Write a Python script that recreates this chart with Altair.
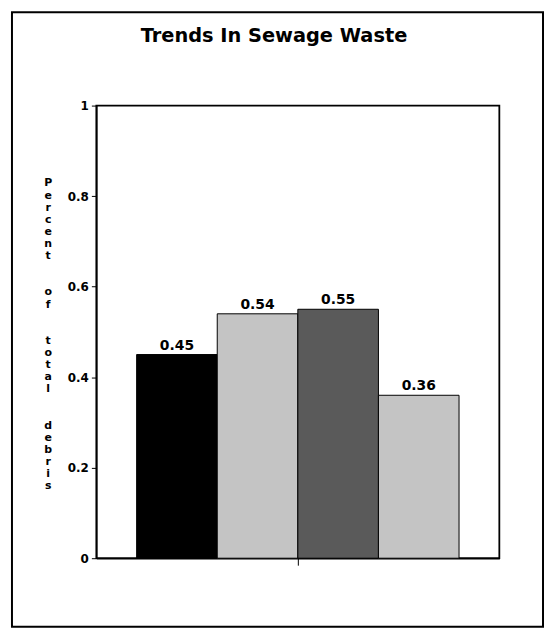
import altair as alt
import pandas as pd

# Data
series = ["Bar 1", "Bar 2", "Bar 3", "Bar 4"]
values = [0.45, 0.54, 0.55, 0.36]
colors = ["#000000", "#c4c4c4", "#5a5a5a", "#c4c4c4"]
y_ticks = [0, 0.2, 0.4, 0.6, 0.8, 1]
title_text = "Trends In Sewage Waste"
y_title = "Percent of total debris"

df = pd.DataFrame({"group": ["all"] * len(series), "series": series, "value": values})

# stacked letters for the vertical axis title; each space becomes two blank lines
y_title_lines = []
for ch in y_title:
    if ch == " ":
        y_title_lines += ["\u2800", "\u2800"]
    else:
        y_title_lines.append(ch)

FONT = "DejaVu Sans"

x_enc = alt.X(
    "group:N",
    scale=alt.Scale(paddingInner=0, paddingOuter=0.125),
    axis=alt.Axis(labels=False, title=None, tickSize=7, tickColor="black",
                  domainColor="black", domainWidth=1.5, tickWidth=1),
)
y_enc = alt.Y(
    "value:Q",
    scale=alt.Scale(domain=[0, 1]),
    axis=alt.Axis(
        values=y_ticks, format=".1~f", grid=False, tickSize=5, tickColor="black",
        domainColor="black", domainWidth=1.5, tickWidth=1,
        labelFont=FONT, labelFontWeight="bold", labelFontSize=12, labelColor="black",
        labelPadding=3,
        title=y_title_lines, titleAngle=0, titleX=-49, titleY=72,
        titleAlign="center", titleBaseline="top", titleFont=FONT,
        titleFontWeight="bold", titleFontSize=11, titleLineHeight=12.2, titleColor="black",
    ),
)

bars = alt.Chart(df).mark_bar(stroke="black", strokeWidth=1).encode(
    x=x_enc,
    xOffset=alt.XOffset("series:N", sort=series, scale=alt.Scale(paddingInner=0, paddingOuter=0)),
    y=y_enc,
    color=alt.Color("series:N", sort=series, scale=alt.Scale(domain=series, range=colors), legend=None),
)

labels = alt.Chart(df).mark_text(
    dy=-5, font=FONT, fontWeight="bold", fontSize=14, color="black", baseline="alphabetic"
).encode(
    x=alt.X("group:N"),
    xOffset=alt.XOffset("series:N", sort=series),
    y=alt.Y("value:Q"),
    text=alt.Text("value:Q", format=".2f"),
)

border = alt.Chart(alt.Data(values=[{}])).mark_rect(
    fill="transparent", stroke="black", strokeWidth=2
).encode(
    x=alt.value(-85), x2=alt.value(450), y=alt.value(-94), y2=alt.value(525)
)

chart = alt.layer(bars, labels, border).properties(
    width=406,
    height=456,
    title=alt.TitleParams(title_text, font=FONT, fontSize=19.5, fontWeight="bold",
                          color="black", anchor="middle", baseline="alphabetic",
                          offset=-50, dx=-24),
    autosize=alt.AutoSizeParams(type="none"),
    padding={"left": 89, "top": 96, "right": 45, "bottom": 70},
).configure(
    background="white",
    view=alt.ViewConfig(stroke="black", strokeWidth=1.8),
)

chart.save("out.html", embed_options={"renderer": "svg", "actions": False})
